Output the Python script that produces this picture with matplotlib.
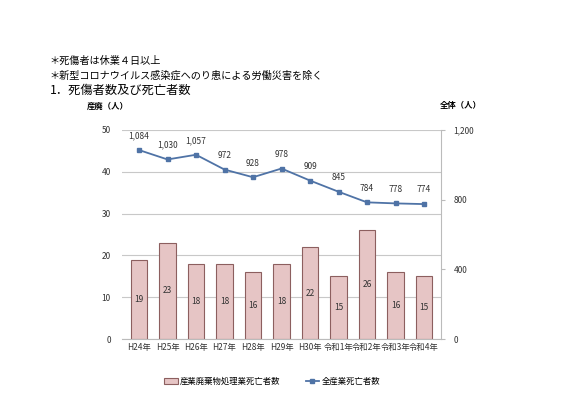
import matplotlib.pyplot as plt

plt.rcParams['font.family'] = ['Noto Sans CJK JP', 'DejaVu Sans']

years = ['H24年', 'H25年', 'H26年', 'H27年', 'H28年', 'H29年', 'H30年',
         '令和1年', '令和2年', '令和3年', '令和4年']
sanpai_deaths = [19, 23, 18, 18, 16, 18, 22, 15, 26, 16, 15]
all_deaths = [1084, 1030, 1057, 972, 928, 978, 909, 845, 784, 778, 774]

fig = plt.figure(figsize=(5.67, 3.97), dpi=100)
ax = fig.add_axes([0.215, 0.146, 0.563, 0.527])
x = list(range(len(years)))

# bars: industrial waste sector
bars = ax.bar(x, sanpai_deaths, width=0.58, color='#E6C5C5', edgecolor='#8C5F5F',
              linewidth=0.8, zorder=2, label='産業廃棄物処理業死亡者数')
for xi, v in zip(x, sanpai_deaths):
    ax.text(xi, v / 2, str(v), ha='center', va='center', fontsize=6, color='#333333')

ax.set_ylim(0, 50)
ax.set_xlim(-0.6, len(years) - 0.4)
ax.set_yticks([0, 10, 20, 30, 40, 50])
ax.yaxis.grid(True, color='#C8C8C8', linewidth=0.8, zorder=0)
ax.set_axisbelow(True)
for s in ['top', 'left', 'right']:
    ax.spines[s].set_visible(False)
ax.spines['bottom'].set_color('#BBBBBB')
ax.tick_params(axis='y', length=0, labelsize=6, colors='#333333', pad=8)
ax.tick_params(axis='x', length=0, labelsize=6, colors='#333333', pad=3)
ax.set_xticks(x)
ax.set_xticklabels(years)

# line: all industries (right axis)
ax2 = ax.twinx()
ax2.plot(x, all_deaths, color='#4F73A6', marker='s', markersize=3.5, linewidth=1.3,
         zorder=3, label='全産業死亡者数')
for xi, v in zip(x, all_deaths):
    ax2.annotate(f'{v:,}', (xi, v), xytext=(0, 7), textcoords='offset points',
                 ha='center', va='bottom', fontsize=6, color='#333333')
ax2.set_ylim(0, 1200)
ax2.set_yticks([0, 400, 800, 1200])
ax2.set_yticklabels(['0', '400', '800', '1,200'])
for s in ['top', 'left', 'bottom']:
    ax2.spines[s].set_visible(False)
ax2.spines['right'].set_color('#BBBBBB')
ax2.tick_params(axis='y', length=3, color='#BBBBBB', labelsize=6, colors='#333333', pad=6)

fig.text(0.153, 0.733, '産廃（人）', fontsize=6, fontweight='bold', ha='left', va='center')
fig.text(0.775, 0.733, '全体（人）', fontsize=6, fontweight='bold', ha='left', va='center')

fig.text(0.088, 0.848, '＊死傷者は休業４日以上', fontsize=7.3, ha='left', va='center')
fig.text(0.088, 0.81, '＊新型コロナウイルス感染症へのり患による労働災害を除く', fontsize=7.3,
         ha='left', va='center')
fig.text(0.088, 0.772, '1．死傷者数及び死亡者数', fontsize=8.8, ha='left', va='center')

h1, l1 = ax.get_legend_handles_labels()
h2, l2 = ax2.get_legend_handles_labels()
fig.legend(h1 + h2, l1 + l2, loc='center', bbox_to_anchor=(0.48, 0.04), ncol=2,
           frameon=False, fontsize=6, handlelength=1.6, handletextpad=0.3,
           columnspacing=3)

fig.savefig('out.png', dpi=100)
